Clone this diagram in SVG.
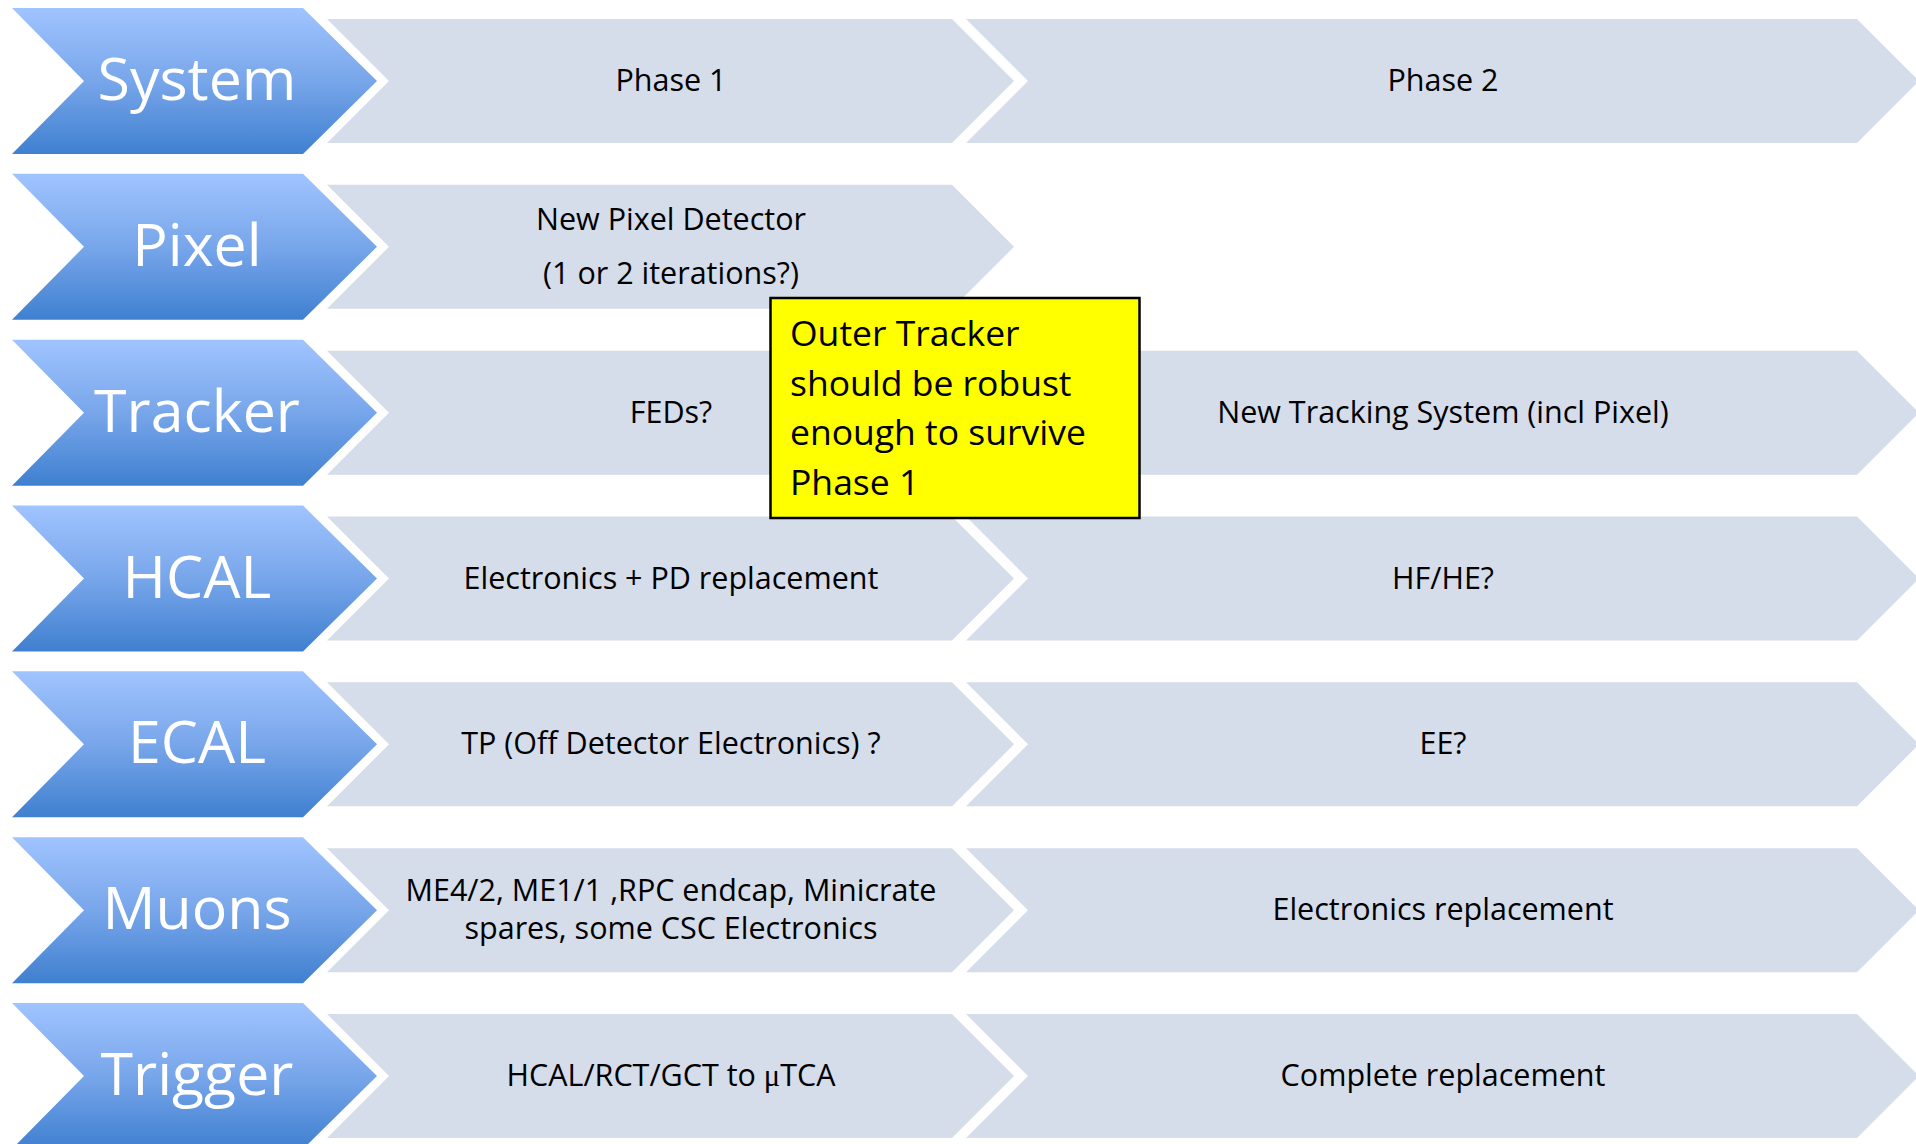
<svg xmlns="http://www.w3.org/2000/svg" width="1916" height="1144" viewBox="0 0 1916 1144">
<defs>
<linearGradient id="blueGrad" x1="0" y1="0" x2="0" y2="1">
<stop offset="0" stop-color="#A0C4FF"/>
<stop offset="0.5" stop-color="#78A6EA"/>
<stop offset="1" stop-color="#3F80D0"/>
</linearGradient>
<path id="blue" d="M12,-73 H303 L377,0 L303,73 H12 L84,0 Z"/>
<path id="g1" d="M327,-62 H952 L1014,0 L952,62 H327 L389,0 Z"/>
<path id="g2" d="M966,-62 H1857 L1919,0 L1857,62 H966 L1028,0 Z"/>
</defs>
<style>
.blue{fill:url(#blueGrad);}
.gray{fill:#D5DCEA;}
.lbl{font-family:"Open Sans","Liberation Sans",sans-serif;font-size:59px;fill:#FFFFFF;text-anchor:middle;}
.txt{font-family:"Open Sans","Liberation Sans",sans-serif;font-size:30.5px;fill:#000000;text-anchor:middle;}
.note{font-family:"Open Sans","Liberation Sans",sans-serif;font-size:35.5px;fill:#000000;}
.mu{font-family:"Liberation Serif",serif;}
</style>
<rect width="1916" height="1144" fill="#FFFFFF"/>
<g id="connectors"/>

<g id="row-system" transform="translate(0,81)">
<g id="system-phase1"><use href="#g1" class="gray"/><text class="txt" x="671" y="10">Phase 1</text></g>
<g id="system-phase2"><use href="#g2" class="gray"/><text class="txt" x="1443" y="10">Phase 2</text></g>
<g id="system"><use href="#blue" class="blue"/><text class="lbl" x="197" y="19">System</text></g>
</g>

<g id="row-pixel" transform="translate(0,246.8)">
<g id="pixel-phase1"><use href="#g1" class="gray"/><text class="txt" x="671" y="-17">New Pixel Detector</text><text class="txt" x="671" y="37">(1 or 2 iterations?)</text></g>
<g id="pixel"><use href="#blue" class="blue"/><text class="lbl" x="197" y="19">Pixel</text></g>
</g>

<g id="row-tracker" transform="translate(0,412.7)">
<g id="tracker-phase1"><use href="#g1" class="gray"/><text class="txt" x="671" y="10">FEDs?</text></g>
<g id="tracker-phase2"><use href="#g2" class="gray"/><text class="txt" x="1443" y="10">New Tracking System (incl Pixel)</text></g>
<g id="tracker"><use href="#blue" class="blue"/><text class="lbl" x="197" y="19">Tracker</text></g>
</g>

<g id="row-hcal" transform="translate(0,578.5)">
<g id="hcal-phase1"><use href="#g1" class="gray"/><text class="txt" x="671" y="10">Electronics + PD replacement</text></g>
<g id="hcal-phase2"><use href="#g2" class="gray"/><text class="txt" x="1443" y="10">HF/HE?</text></g>
<g id="hcal"><use href="#blue" class="blue"/><text class="lbl" x="197" y="19">HCAL</text></g>
</g>

<g id="row-ecal" transform="translate(0,744.3)">
<g id="ecal-phase1"><use href="#g1" class="gray"/><text class="txt" x="671" y="10">TP (Off Detector Electronics) ?</text></g>
<g id="ecal-phase2"><use href="#g2" class="gray"/><text class="txt" x="1443" y="10">EE?</text></g>
<g id="ecal"><use href="#blue" class="blue"/><text class="lbl" x="197" y="19">ECAL</text></g>
</g>

<g id="row-muons" transform="translate(0,910.2)">
<g id="muons-phase1"><use href="#g1" class="gray"/><text class="txt" x="671" y="-9">ME4/2, ME1/1 ,RPC endcap, Minicrate</text><text class="txt" x="671" y="29">spares, some CSC Electronics</text></g>
<g id="muons-phase2"><use href="#g2" class="gray"/><text class="txt" x="1443" y="10">Electronics replacement</text></g>
<g id="muons"><use href="#blue" class="blue"/><text class="lbl" x="197" y="19">Muons</text></g>
</g>

<g id="row-trigger" transform="translate(0,1076)">
<g id="trigger-phase1"><use href="#g1" class="gray"/><text class="txt" x="671" y="10">HCAL/RCT/GCT to <tspan class="mu">μ</tspan>TCA</text></g>
<g id="trigger-phase2"><use href="#g2" class="gray"/><text class="txt" x="1443" y="10">Complete replacement</text></g>
<g id="trigger"><use href="#blue" class="blue"/><text class="lbl" x="197" y="19">Trigger</text></g>
</g>

<g id="note-outer-tracker">
<rect x="770.5" y="298" width="369" height="220" fill="#FFFF00" stroke="#000000" stroke-width="2.5"/>
<text class="note" x="790" y="346">Outer Tracker</text>
<text class="note" x="790" y="395.5">should be robust</text>
<text class="note" x="790" y="445">enough to survive</text>
<text class="note" x="790" y="494.5">Phase 1</text>
</g>
</svg>
